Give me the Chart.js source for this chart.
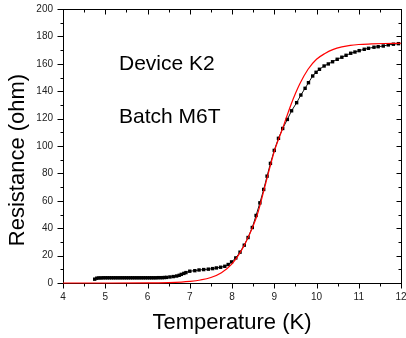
<!DOCTYPE html>
<html>
<head>
<meta charset="utf-8">
<script src="https://cdn.jsdelivr.net/npm/chart.js@4/dist/chart.umd.min.js"></script>
<style>
  body { margin: 0; background: #fff; }
  canvas { display: block; }
</style>
</head>
<body>
<canvas id="chartjs-0" width="406" height="338"></canvas>
<script>
"use strict";

/* measured R(T) points */
let measTemp = [4.75, 4.80, 4.85, 4.90, 4.95, 5.00, 5.05, 5.10, 5.15, 5.20, 5.25, 5.30, 5.35, 5.40,
    5.45, 5.50, 5.55, 5.60, 5.65, 5.70, 5.75, 5.80, 5.85, 5.90, 5.95, 6.00, 6.05, 6.10, 6.15, 6.20,
    6.25, 6.30, 6.35, 6.40, 6.45, 6.53, 6.61, 6.69, 6.75, 6.80, 6.86, 6.91, 7.00, 7.12, 7.22, 7.33,
    7.44, 7.54, 7.63, 7.73, 7.83, 7.91, 7.99, 8.09, 8.19, 8.29, 8.38, 8.48, 8.57, 8.66, 8.75, 8.83,
    8.91, 9.00, 9.10, 9.20, 9.31, 9.41, 9.53, 9.63, 9.73, 9.81, 9.91, 9.99, 10.07, 10.18, 10.28,
    10.38, 10.49, 10.60, 10.70, 10.81, 10.91, 11.01, 11.13, 11.23, 11.36, 11.46, 11.58, 11.70,
    11.82, 11.94];
let measRes = [2.8, 3.5, 3.7, 3.7, 3.8, 3.8, 3.8, 3.8, 3.8, 3.8, 3.8, 3.8, 3.8, 3.8,
    3.8, 3.8, 3.8, 3.8, 3.8, 3.8, 3.8, 3.8, 3.8, 3.8, 3.8, 3.8, 3.8, 3.8, 3.8, 3.8,
    3.9, 3.9, 3.9, 4.0, 4.1, 4.4, 4.7, 5.1, 5.6, 6.3, 7.0, 7.6, 8.6, 9.0, 9.5, 9.8,
    10.1, 10.5, 11.0, 11.5, 12.2, 13.5, 15.4, 18.3, 22.5, 27.6, 33.2, 40.5, 49.3, 58.5, 68.3, 78.0,
    87.3, 96.8, 105.6, 112.8, 119.4, 125.7, 131.6, 137.2, 142.1, 146.2, 151.1, 153.8, 156.0, 158.4, 159.9,
    161.5, 163.3, 164.8, 166.2, 167.7, 168.6, 169.6, 170.6, 171.3, 172.1, 172.5, 173.0, 173.8,
    174.3, 174.7];

/* fitted curve */
let fitTemp = [4.0, 5.0, 6.0, 6.5, 6.8, 7.0, 7.25, 7.5, 7.75, 8.0, 8.2, 8.4, 8.6, 8.8, 9.0,
    9.2, 9.4, 9.6, 9.8, 10.0, 10.2, 10.4, 10.6, 10.8, 11.0, 11.3, 11.6, 12.0];
let fitRes = [0, 0, 0.05, 0.3, 0.7, 1.2, 2.2, 4.0, 7.5, 14.0, 22.5, 34.5, 50.0, 73.0, 96.0,
    113.0, 130.5, 145.0, 156.0, 163.3, 167.5, 170.5, 172.3, 173.5, 174.1, 174.5, 174.8, 175.0];

let xTicks = [4, 5, 6, 7, 8, 9, 10, 11, 12];
let yTicks = [0, 20, 40, 60, 80, 100, 120, 140, 160, 180, 200];
let notes = ["Device K2", "Batch M6T"];

const fontFam = "'Liberation Sans', Arial, sans-serif";

function toPoints(xs, ys) {
    let pts = [];
    for (let i = 0; i < xs.length; i++) {
        pts.push({x: xs[i], y: ys[i]});
    }
    return pts;
}

// frame + inward/outward ticks, minor ones at half steps
const frameTicks = {
    id: "frameTicks",
    beforeDatasetsDraw(chart) {
        let ctx = chart.ctx;
        let a = chart.chartArea;
        let sx = chart.scales.x;
        let sy = chart.scales.y;
        let L = Math.round(a.left) + 0.5, R = Math.round(a.right) + 0.5;
        let T = Math.round(a.top) + 0.5, B = Math.round(a.bottom) + 0.5;
        ctx.save();
        ctx.strokeStyle = "#000";
        ctx.lineWidth = 1;
        ctx.strokeRect(L, T, R - L, B - T);
        ctx.beginPath();
        for (let v = xTicks[0]; v <= xTicks[xTicks.length - 1]; v += 0.5) {
            let px = Math.round(sx.getPixelForValue(v)) + 0.5;
            let len = Number.isInteger(v) ? 5 : 3;
            ctx.moveTo(px, B); ctx.lineTo(px, B + len);
            ctx.moveTo(px, T); ctx.lineTo(px, T + len);
        }
        for (let v = yTicks[0]; v <= yTicks[yTicks.length - 1]; v += 10) {
            let py = Math.round(sy.getPixelForValue(v)) + 0.5;
            let major = v % 20 === 0;
            ctx.moveTo(L, py); ctx.lineTo(L - (major ? 6 : 3), py);
            ctx.moveTo(R, py); ctx.lineTo(R - (major ? 5 : 3), py);
        }
        ctx.stroke();
        ctx.restore();
    },
    afterDraw(chart) {
        let ctx = chart.ctx;
        let a = chart.chartArea;
        ctx.save();
        ctx.fillStyle = "#000";
        ctx.font = "21px " + fontFam;
        ctx.textBaseline = "alphabetic";
        ctx.fillText(notes[0], a.left + 56, a.top + 61);
        ctx.fillText(notes[1], a.left + 56, a.top + 114);

        // axis titles
        ctx.font = "22px " + fontFam;
        ctx.textAlign = "center";
        ctx.fillText("Temperature (K)", (a.left + a.right) / 2, 329);
        ctx.translate(24, 160);
        ctx.rotate(-Math.PI / 2);
        ctx.fillText("Resistance (ohm)", 0, 0);
        ctx.restore();
    }
};

let ctx0 = document.getElementById("chartjs-0");
let myChart0 = new Chart(ctx0, {
    type: "line",
    data: {
        datasets: [{
            label: "Fit",
            data: toPoints(fitTemp, fitRes),
            borderColor: "#ff0000",
            borderWidth: 1.2,
            pointRadius: 0,
            fill: false,
            cubicInterpolationMode: "monotone",
            clip: false,
            order: 1
        }, {
            label: "Measured",
            data: toPoints(measTemp, measRes),
            borderColor: "#111",
            borderWidth: 1,
            pointStyle: "rect",
            pointRadius: 2.4,
            pointBorderWidth: 0,
            pointBackgroundColor: "#000",
            fill: false,
            tension: 0,
            order: 2
        }]
    },
    options: {
        responsive: false,
        animation: false,
        layout: { padding: { top: 9, right: 5, left: 0, bottom: 0 } },
        plugins: { legend: { display: false }, tooltip: { enabled: false } },
        scales: {
            x: {
                type: "linear",
                min: 4,
                max: 12,
                grid: { display: false, drawTicks: false },
                border: { display: false },
                ticks: {
                    stepSize: 1,
                    padding: 8,
                    color: "#222",
                    font: { family: fontFam, size: 10 }
                },
                afterFit(scale) {
                    scale.height = 55;
                    scale.paddingLeft = 0;
                    scale.paddingRight = 0;
                }
            },
            y: {
                min: 0,
                max: 200,
                grid: { display: false, drawTicks: false },
                border: { display: false },
                ticks: {
                    stepSize: 20,
                    padding: 10,
                    color: "#222",
                    font: { family: fontFam, size: 10 }
                },
                afterFit(scale) {
                    scale.width = 63;
                    scale.paddingTop = 0;
                    scale.paddingBottom = 0;
                }
            }
        }
    },
    plugins: [frameTicks]
});
</script>
</body>
</html>
